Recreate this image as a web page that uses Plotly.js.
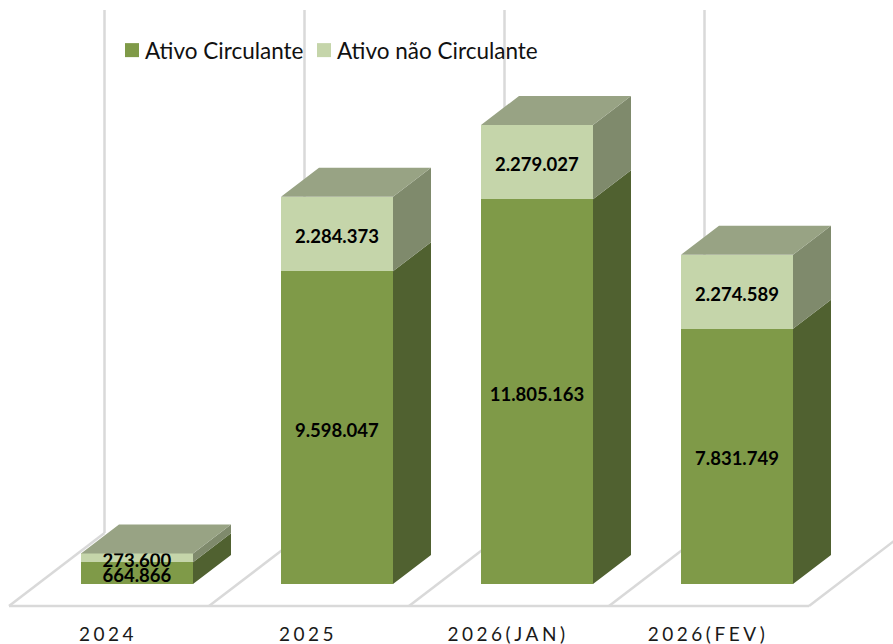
<!DOCTYPE html>
<html>
<head>
<meta charset="utf-8">
<script src="https://cdn.plot.ly/plotly-3.0.1.min.js"></script>
<style>html,body{margin:0;padding:0;background:#fff}#chart{width:893px;height:644px}</style>
</head>
<body>
<div id="chart"></div>
<script>
var categories = ['2024', '2025', '2026(JAN)', '2026(FEV)'];
var circulante = [664866, 9598047, 11805163, 7831749];
var naoCirculante = [273600, 2284373, 2279027, 2274589];
var circulanteLabels = ['664.866', '9.598.047', '11.805.163', '7.831.749'];
var naoCirculanteLabels = ['273.600', '2.284.373', '2.279.027', '2.274.589'];

var UNITS_PER_PX = 30684, PX_PER_CAT = 200;
var halfW = 0.28, depthX = 38 / PX_PER_CAT, depthY = 29 * UNITS_PER_PX;
var positions = categories.map(function (_, i) { return i; });

function face(xs, ys, pts) { pts.forEach(function (p) { xs.push(p[0]); ys.push(p[1]); }); xs.push(null); ys.push(null); }
var sideDark = {x: [], y: []}, sideLight = {x: [], y: []}, top3d = {x: [], y: []};
positions.forEach(function (p, i) {
  var r = p + halfW, l = p - halfW, a = circulante[i], b = a + naoCirculante[i];
  face(sideDark.x, sideDark.y, [[r, 0], [r + depthX, depthY], [r + depthX, a + depthY], [r, a], [r, 0]]);
  face(sideLight.x, sideLight.y, [[r, a], [r + depthX, a + depthY], [r + depthX, b + depthY], [r, b], [r, a]]);
  face(top3d.x, top3d.y, [[l, b], [l + depthX, b + depthY], [r + depthX, b + depthY], [r, b], [l, b]]);
});
function poly(d, color, name) {
  return {type: 'scatter', mode: 'none', x: d.x, y: d.y, fill: 'toself', fillcolor: color, name: name,
          showlegend: false, hoverinfo: 'skip'};
}
var labelFont = {family: 'Lato, sans-serif', size: 18.5, color: '#000', weight: 700};
var traces = [
  {type: 'bar', name: 'Ativo Circulante', x: positions, y: circulante, width: 0.56,
   marker: {color: '#7f9a48', line: {width: 0}}, text: circulanteLabels, textposition: 'inside',
   insidetextanchor: 'middle', textangle: 0, constraintext: 'none', insidetextfont: labelFont, hoverinfo: 'x+y'},
  {type: 'bar', name: 'Ativo não Circulante', x: positions, y: naoCirculante, width: 0.56,
   marker: {color: '#c5d5aa', line: {width: 0}}, text: naoCirculanteLabels, textposition: 'inside',
   insidetextanchor: 'middle', textangle: 0, constraintext: 'none', insidetextfont: labelFont, hoverinfo: 'x+y'},
  poly(sideDark, '#506130', 'side-dark'),
  poly(sideLight, '#7f8a6c', 'side-light'),
  poly(top3d, '#98a384', 'top')
];

var GRID = '#d9d9d9';
var floorBackY = 51 * UNITS_PER_PX;
var floorFrontY = -22 * UNITS_PER_PX;
var backOff = -32.5 / PX_PER_CAT, frontOff = -128 / PX_PER_CAT, shapes = [];
function seg(x0, y0, x1, y1) {
  shapes.push({type: 'line', layer: 'below', xref: 'x', yref: 'y', x0: x0, y0: y0, x1: x1, y1: y1,
               line: {color: GRID, width: 2.5}});
}
[0, 1, 2, 3, 4].forEach(function (i) {
  seg(i + frontOff, floorFrontY, i + backOff, floorBackY);
  seg(i + backOff, floorBackY, i + backOff, 574 * UNITS_PER_PX);
});
seg(frontOff, floorFrontY, 4 + frontOff, floorFrontY);

var layout = {
  width: 893, height: 644, margin: {l: 0, r: 0, t: 0, b: 24},
  paper_bgcolor: '#fff', plot_bgcolor: '#fff', barmode: 'stack', dragmode: false, hovermode: false,
  font: {family: 'Lato, sans-serif', color: '#000'},
  xaxis: {type: 'linear', range: [-137 / PX_PER_CAT, (893 - 137) / PX_PER_CAT], showgrid: false, zeroline: false,
          showline: false, ticks: '', tickmode: 'array', tickvals: positions.map(function (p) { return p - 0.145; }),
          ticktext: categories, ticklabelstandoff: 1, tickfont: {family: 'Lato, sans-serif', size: 19, color: '#1a1a1a'}},
  yaxis: {range: [-36 * UNITS_PER_PX, 584 * UNITS_PER_PX], visible: false, showgrid: false, zeroline: false},
  legend: {orientation: 'h', x: 105 / 893, y: 1 - 29 / 620, xanchor: 'left', yanchor: 'top',
           font: {family: 'Lato, sans-serif', size: 22.5, color: '#111'}, traceorder: 'normal', bgcolor: 'rgba(0,0,0,0)'},
  shapes: shapes, showlegend: true
};
Plotly.newPlot('chart', traces, layout, {displayModeBar: false, staticPlot: true}).then(function () {
  document.querySelectorAll('.xtick text').forEach(function (t) { t.style.letterSpacing = '3.5px'; });
  document.querySelectorAll('.legendsymbols').forEach(function (g) { g.setAttribute('transform', 'translate(7,0)'); });
  document.querySelectorAll('.legendbar path, .legendpoints path').forEach(function (p) { p.setAttribute('d', 'M7,7H-7V-7H7Z'); });
  var items = document.querySelectorAll('.legend .traces');
  if (items[1]) {
    var m = /translate\(([^,]+),\s*([^)]+)\)/.exec(items[1].getAttribute('transform') || '');
    if (m) items[1].setAttribute('transform', 'translate(192,' + m[2] + ')');
  }
  document.querySelectorAll('.bartext').forEach(function (t) {
    t.setAttribute('transform', 'translate(0,2) ' + (t.getAttribute('transform') || ''));
  });
});
</script>
</body>
</html>
